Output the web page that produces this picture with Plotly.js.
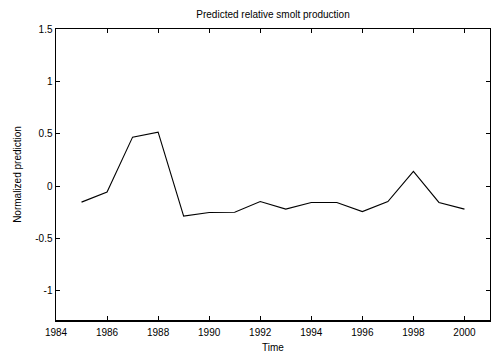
<!DOCTYPE html>
<html><head><meta charset="utf-8">
<script src="https://cdn.plot.ly/plotly-3.0.1.min.js"></script>
<style>body{margin:0;padding:0;background:#fff}#c{width:491px;height:353px}</style>
</head><body><div id="c"></div>
<script>
const years = [1985,1986,1987,1988,1989,1990,1991,1992,1993,1994,1995,1996,1997,1998,1999,2000];
const prediction = [-0.154,-0.058,0.467,0.515,-0.288,-0.253,-0.25,-0.148,-0.221,-0.157,-0.157,-0.244,-0.148,0.140,-0.157,-0.221];
const xTicks = [1984,1986,1988,1990,1992,1994,1996,1998,2000];
const yTicks = [-1,-0.5,0,0.5,1,1.5];
const yTickText = ['-1','-0.5','0','0.5','1','1.5'];
const font = {family:'Liberation Sans, Arial, sans-serif', size:10, color:'#000'};
Plotly.newPlot('c', [{
  x: years, y: prediction, type:'scatter', mode:'lines',
  line:{color:'#000', width:1.1}
}], {
  width:491, height:353,
  margin:{l:56, r:1, t:29, b:33},
  paper_bgcolor:'#fff', plot_bgcolor:'#fff',
  font: font,
  showlegend:false,
  title:{text:'Predicted relative smolt production', font:{family:font.family,size:10,color:'#000'}, x:0.556, xanchor:'center', y:0.958, yanchor:'middle'},
  xaxis:{range:[1984,2001], tickvals:xTicks, ticktext:xTicks.map(String), ticks:'inside', ticklen:4, tickcolor:'#000',
    showline:true, linecolor:'#000', linewidth:1.5, mirror:'ticks', showgrid:false, zeroline:false, ticklabelstandoff:2,
    title:{text:'Time', font:{size:10}, standoff:7}},
  yaxis:{range:[-1.28,1.5], tickvals:yTicks, ticktext:yTickText, ticks:'inside', ticklen:4, tickcolor:'#000',
    showline:true, linecolor:'#000', linewidth:1.5, mirror:'ticks', showgrid:false, zeroline:false,
    title:{text:'Normalized prediction', font:{size:10}, standoff:12}}
}, {staticPlot:true});
</script></body></html>
